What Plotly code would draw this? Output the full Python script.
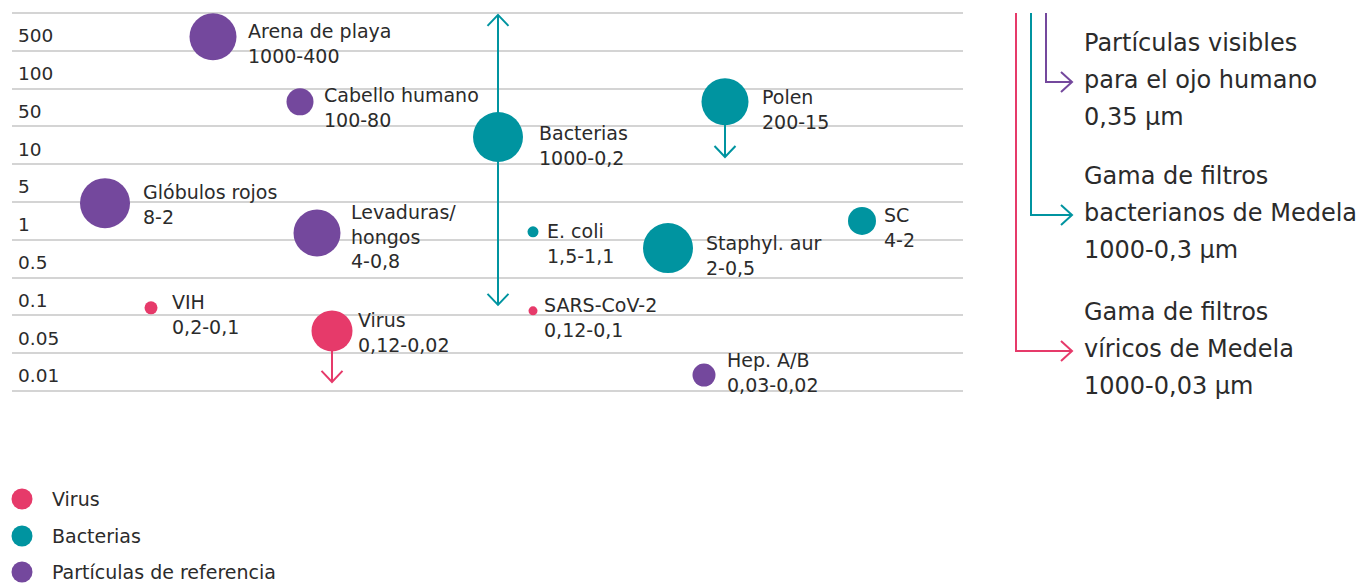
import plotly.graph_objects as go

W, H = 1369, 583
OFF = 8  # page body margin of the html page
WF, HF = W - OFF, H - OFF

# ---------------- data ----------------
# size scale rows (µm), top to bottom
size_rows = ["500", "100", "50", "10", "5", "1", "0.5", "0.1", "0.05", "0.01"]

names = ["Arena de playa", "Cabello humano", "Bacterias", "Polen", "Glóbulos rojos",
         "Levaduras/<br>hongos", "E. coli", "Staphyl. aur", "SC", "VIH", "SARS-CoV-2",
         "Virus", "Hep. A/B"]
ranges = ["1000-400", "100-80", "1000-0,2", "200-15", "8-2", "4-0,8", "1,5-1,1",
          "2-0,5", "4-2", "0,2-0,1", "0,12-0,1", "0,12-0,02", "0,03-0,02"]
groups = ["ref", "ref", "bac", "bac", "ref", "ref", "bac", "bac", "bac",
          "vir", "vir", "vir", "ref"]
# horizontal placement and position on the row scale (0 = bottom, 10 = top)
x_pos = [213, 300, 498, 725, 105, 317, 533, 668, 862, 151, 533, 332, 704]
y_pos = [9.37, 7.65, 6.72, 7.65, 4.97, 4.18, 4.21, 3.78, 4.50, 2.20, 2.12, 1.59, 0.42]
diam = [47, 27, 50, 47, 50, 47, 11, 50, 28, 13, 9, 41, 23]

# range arrows
arrow_names = ["Bacterias", "Polen", "Virus"]
arrow_start = [2.28, 7.65, 1.59]
arrow_end = [9.95, 6.19, 0.24]
arrow_both = [True, False, False]

legend_groups = ["vir", "bac", "ref"]
legend_names = ["Virus", "Bacterias", "Partículas de referencia"]

notes = [["Partículas visibles", "para el ojo humano", "0,35 µm"],
         ["Gama de filtros", "bacterianos de Medela", "1000-0,3 µm"],
         ["Gama de filtros", "víricos de Medela", "1000-0,03 µm"]]
notes_groups = ["ref", "bac", "vir"]

# ---------------- style ----------------
colors = {"vir": "#E63A6A", "bac": "#0094A0", "ref": "#74489D"}
FONT = "DejaVu Sans"
TXT = "#2b2b2b"
GRID = "#d4d4d4"

# label offsets (px) relative to bubble centre: left edge of text, centre of first line
label_dx = [33, 22, 39, 35, 36, 32, 12, 36, 20, 19, 9, 24, 21]
label_dy = [-6, -7, -4, -5, -11, -21, -1, -5, -6, -6, -6, -11, -15]

# plot area in page pixels
PX0, PX1, PY0, PY1 = 12, 963, 13, 391
nrows = len(size_rows)
ppu = (PY1 - PY0) / nrows  # pixels per row unit
EPS = 0.1  # small range padding so the outer grid lines are drawn

fig = go.Figure()

# arrows (drawn first, under bubbles)
name_idx = {n: i for i, n in enumerate(names)}
for an, ys, ye, both in zip(arrow_names, arrow_start, arrow_end, arrow_both):
    i = name_idx[an]
    c = colors[groups[i]]
    x = x_pos[i]
    fig.add_trace(go.Scatter(x=[x, x], y=[ys, ye], mode="lines",
                             line=dict(color=c, width=2), hoverinfo="skip",
                             showlegend=False))
    tips = [(ye, 1 if ye > ys else -1)]
    if both:
        tips.append((ys, 1 if ys > ye else -1))
    for yt, d in tips:
        dy = 11 / ppu
        fig.add_trace(go.Scatter(x=[x - 10.5, x, x + 10.5], y=[yt - d * dy, yt, yt - d * dy],
                                 mode="lines", line=dict(color=c, width=2),
                                 hoverinfo="skip", showlegend=False))

# bubbles
for g in ["ref", "bac", "vir"]:
    idx = [i for i in range(len(names)) if groups[i] == g]
    fig.add_trace(go.Scatter(
        x=[x_pos[i] for i in idx], y=[y_pos[i] for i in idx], mode="markers",
        marker=dict(size=[diam[i] for i in idx], color=colors[g], line=dict(width=0), opacity=1),
        hovertext=[names[i] + " " + ranges[i] for i in idx], hoverinfo="text",
        showlegend=False))

# labels
LF = 19
lh = 1.3 * LF
for i in range(len(names)):
    nl = names[i].count("<br>") + 2
    fig.add_annotation(x=x_pos[i], y=y_pos[i], xref="x", yref="y",
                       text=names[i] + "<br>" + ranges[i], showarrow=False,
                       xanchor="left", yanchor="middle", align="left",
                       xshift=label_dx[i], yshift=-(label_dy[i] + (nl - 1) * lh / 2),
                       font=dict(family=FONT, size=LF, color=TXT))

# ---- overlay (page pixel) axes: right-hand notes and bottom legend ----
bx = [1046, 1031, 1016]
by = [82, 215, 351]
tipx = 1072
for k, g in enumerate(notes_groups):
    c = colors[g]
    fig.add_trace(go.Scatter(x=[bx[k], bx[k], tipx], y=[PY0, by[k], by[k]], mode="lines",
                             line=dict(color=c, width=2), xaxis="x2", yaxis="y2",
                             hoverinfo="skip", showlegend=False))
    fig.add_trace(go.Scatter(x=[tipx - 11, tipx, tipx - 11], y=[by[k] - 10, by[k], by[k] + 10],
                             mode="lines", line=dict(color=c, width=2), xaxis="x2", yaxis="y2",
                             hoverinfo="skip", showlegend=False))
    for j, line in enumerate(notes[k]):
        fig.add_annotation(x=1082, y=by[k] + (j - 1) * 37 - 2, xref="x2", yref="y2",
                           text=line, showarrow=False, xanchor="left", yanchor="middle",
                           font=dict(family=FONT, size=24, color=TXT))

ly = [499, 536, 572]
fig.add_trace(go.Scatter(x=[22] * 3, y=ly, mode="markers",
                         marker=dict(size=21, color=[colors[g] for g in legend_groups]),
                         xaxis="x2", yaxis="y2", hoverinfo="skip", showlegend=False,
                         cliponaxis=False))
for k, nm in enumerate(legend_names):
    fig.add_annotation(x=50, y=ly[k], xref="x2", yref="y2", text=nm, showarrow=False,
                       xanchor="left", yanchor="middle",
                       font=dict(family=FONT, size=19, color=TXT))

ytop = PY0 - EPS * ppu
ybot = PY1 + EPS * ppu
fig.update_layout(
    width=WF, height=HF,
    margin=dict(l=0, r=0, t=0, b=0),
    paper_bgcolor="white", plot_bgcolor="rgba(0,0,0,0)",
    showlegend=False,
    xaxis=dict(domain=[(PX0 - OFF) / WF, (PX1 - OFF) / WF], range=[PX0, PX1],
               visible=False, fixedrange=True),
    yaxis=dict(domain=[1 - (ybot - OFF) / HF, 1 - (ytop - OFF) / HF],
               range=[-EPS, nrows + EPS],
               tickmode="array",
               tickvals=[nrows - k - 0.5 - 0.1 for k in range(nrows)],
               ticktext=size_rows, ticks="", ticklabelposition="inside",
               ticklabelstandoff=3,
               tickfont=dict(family=FONT, size=18.5, color=TXT),
               showgrid=False, zeroline=False, showline=False, fixedrange=True,
               minor=dict(tickmode="array", tickvals=list(range(nrows + 1)),
                          showgrid=True, gridcolor=GRID, gridwidth=2, ticks="")),
    xaxis2=dict(domain=[0, 1], range=[OFF, OFF + WF], visible=False, fixedrange=True,
                anchor="y2"),
    yaxis2=dict(domain=[0, 1], range=[OFF + HF, OFF], visible=False, fixedrange=True,
                anchor="x2"),
)

fig.write_html("out.html")
